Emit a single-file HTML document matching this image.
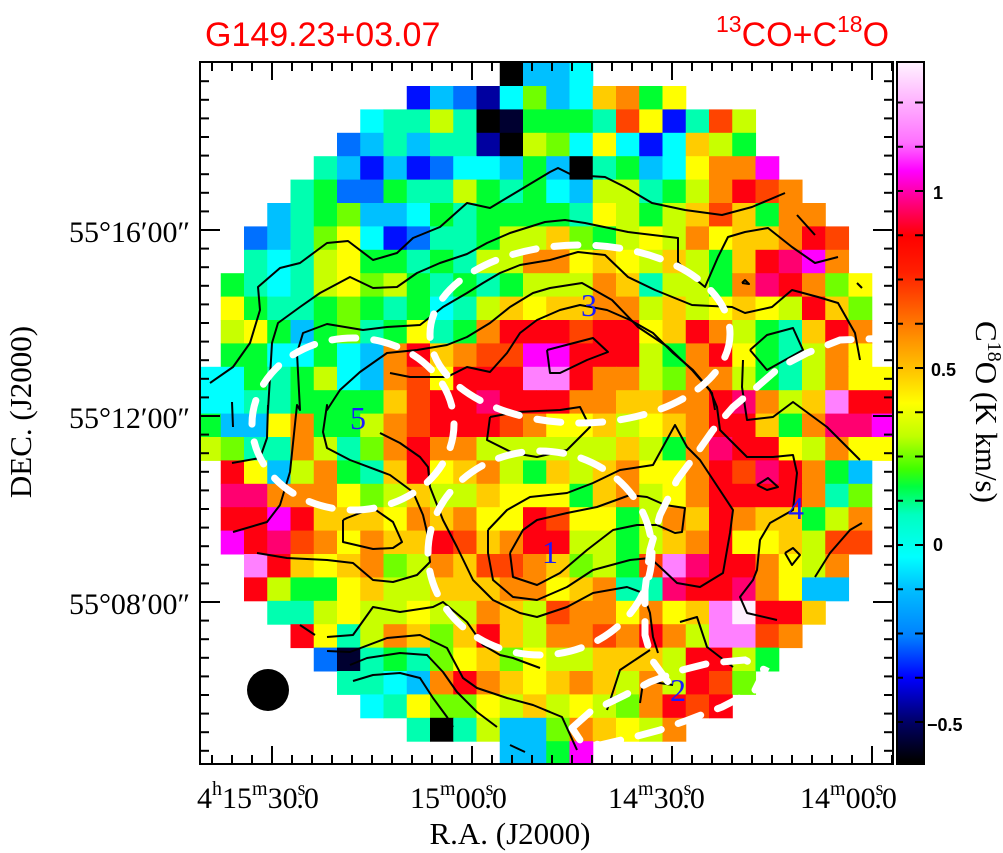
<!DOCTYPE html>
<html><head><meta charset="utf-8">
<style>
html,body{margin:0;padding:0;background:#fff;width:1003px;height:853px;overflow:hidden}
svg{display:block}
.ser{font-family:"Liberation Serif",serif}
</style></head>
<body>
<svg id="s" width="1003" height="853" viewBox="0 0 1003 853" xmlns="http://www.w3.org/2000/svg">
<defs>
<clipPath id="pc"><rect x="200" y="62" width="693" height="702"/></clipPath>
<linearGradient id="cb" x1="0" y1="0" x2="0" y2="1">
<stop offset="0.003" stop-color="#fff0ff"/>
<stop offset="0.115" stop-color="#ff70ff"/>
<stop offset="0.155" stop-color="#ff00ff"/>
<stop offset="0.20" stop-color="#ff0080"/>
<stop offset="0.248" stop-color="#ff0000"/>
<stop offset="0.30" stop-color="#ff2000"/>
<stop offset="0.353" stop-color="#ff6000"/>
<stop offset="0.393" stop-color="#ff9000"/>
<stop offset="0.446" stop-color="#ffcc00"/>
<stop offset="0.486" stop-color="#ffff00"/>
<stop offset="0.533" stop-color="#c0ff00"/>
<stop offset="0.58" stop-color="#40ff00"/>
<stop offset="0.605" stop-color="#00ff40"/>
<stop offset="0.645" stop-color="#00ffc0"/>
<stop offset="0.705" stop-color="#00ffff"/>
<stop offset="0.75" stop-color="#00c0ff"/>
<stop offset="0.818" stop-color="#0080ff"/>
<stop offset="0.877" stop-color="#0000ff"/>
<stop offset="0.943" stop-color="#000060"/>
<stop offset="0.996" stop-color="#000000"/>
</linearGradient>
</defs>
<g id="cells" clip-path="url(#pc)"></g>
<g id="cont" fill="none" stroke="#000" stroke-width="2" stroke-linejoin="round" clip-path="url(#pc)"></g>
<g fill="none" stroke="#fff" stroke-width="7" stroke-linecap="round" stroke-dasharray="24 18" clip-path="url(#pc)">
<ellipse cx="580" cy="334" rx="150" ry="89"/>
<ellipse cx="353" cy="424" rx="101" ry="86"/>
<ellipse cx="540" cy="553" rx="112" ry="102"/>
<polyline points="893,338 840,340 807,353 780,367 757,387 733,407 713,430 697,453 677,480 660,515 650,550 645,590 645,635 652,660 668,682"/>
<polyline points="572,728 590,712 625,695 650,682 682,670 710,663 745,660 765,670 755,690 722,707 688,720 660,730 630,738 600,745 580,740 572,728"/>
</g>
<circle cx="268" cy="690" r="21" fill="#000"/>
<g fill="#1a1aff" class="ser" font-size="32">
<text x="581" y="316">3</text>
<text x="350" y="429">5</text>
<text x="542" y="563">1</text>
<text x="788" y="519">4</text>
<text x="670" y="701">2</text>
</g>
<rect x="200" y="62" width="693" height="702" fill="none" stroke="#000" stroke-width="2"/>
<g id="ticks" stroke="#000" stroke-width="2"></g>
<rect x="897" y="62" width="27" height="702" fill="url(#cb)" stroke="#000" stroke-width="2"/>
<g id="cbt" stroke="#000" stroke-width="2"></g>
<g fill="#ff0000" font-family="Liberation Sans, sans-serif" font-size="34">
<text x="205" y="46">G149.23+03.07</text>
<text x="716" y="46"><tspan font-size="23" dy="-14">13</tspan><tspan dy="14">CO+C</tspan><tspan font-size="23" dy="-14">18</tspan><tspan dy="14">O</tspan></text>
</g>
<g class="ser" font-size="30" fill="#000">
<text x="190" y="242" text-anchor="end">55°16′00″</text>
<text x="190" y="428" text-anchor="end">55°12′00″</text>
<text x="190" y="614" text-anchor="end">55°08′00″</text>
<text x="197" y="808">4<tspan font-size="20" dy="-13">h</tspan><tspan dy="13">15</tspan><tspan font-size="20" dy="-13">m</tspan><tspan dy="13">30</tspan><tspan font-size="20" dy="-13">s</tspan><tspan dy="13" dx="-9">.0</tspan></text>
<text x="410" y="808">15<tspan font-size="20" dy="-13">m</tspan><tspan dy="13">00</tspan><tspan font-size="20" dy="-13">s</tspan><tspan dy="13" dx="-9">.0</tspan></text>
<text x="608" y="808">14<tspan font-size="20" dy="-13">m</tspan><tspan dy="13">30</tspan><tspan font-size="20" dy="-13">s</tspan><tspan dy="13" dx="-9">.0</tspan></text>
<text x="800" y="808">14<tspan font-size="20" dy="-13">m</tspan><tspan dy="13">00</tspan><tspan font-size="20" dy="-13">s</tspan><tspan dy="13" dx="-9">.0</tspan></text>
<text x="510" y="844" text-anchor="middle" font-size="31">R.A. (J2000)</text>
<text transform="translate(31,412) rotate(-90)" text-anchor="middle" font-size="31">DEC. (J2000)</text>
<text transform="translate(976,412) rotate(90)" text-anchor="middle" font-size="31">C<tspan font-size="20" dy="-12">18</tspan><tspan dy="12">O (K km/s)</tspan></text>
</g>
<g font-family="Liberation Sans, sans-serif" font-weight="bold" font-size="18" fill="#000">
<text x="933" y="199">1</text>
<text x="931" y="376">0.5</text>
<text x="933" y="551">0</text>
<text x="927" y="731">−0.5</text>
</g>
</svg>
<script>
var rows=[
"_____________KccC_____________",
"_________BcbnClcCoOgY_________",
"_______CttytKNgggtrYBtry______",
"______bctcttnKylCYCBCoyg______",
"_____tcBcBbCCcgcKtgcCYOOp_____",
"____tgbbgttygtgCcyytgyORrO____",
"___ctglccCgtggggtYygyorogOO___",
"__bctlYCBbttgyyolgyYyOYooORr__",
"__tCtyYggtgtyyOOYoYyoygoRmpO__",
"_gtCtyYlygtgtgyyyOotyygOmROlY_",
"_YgttglgtgCtyoYooOOyoyYoYyRol_",
"_yYgcgltgYtgORRRrRRYoROygtoRO_",
"_ggCCgCcORoOrrppRRRygORYgtyOY_",
"CCgtgyCcOrYRRRPPROOylOOygtyOYY",
"CCttggggorRRmRRROOooOORmOyoPRR",
"gccYOggyOrRRRrOYYoyYoORRogOmmp",
"ylttOytlOROOyyyyyyoygOmRRYyOYY",
"_RYcyOgtoRYoOygoyoOYYORrmROgc_",
"_mmOOOYlyoyyoYYYgoOyYORRRROtl_",
"_RRpRoooYOoOYYRrYYgyOoROoogyO_",
"_pRmrOYOooRroORRyygyoORYYoyrr_",
"__PRoYoOlyOorrOolygrPmRROYyO__",
"__RyggYoyyoooOOYoOttmRRmOYcc__",
"___ttyYyyYyyOoyrOOYOYoPWRRo___",
"____RYtyOoloRoyOOrOROyPPrO____",
"_____bNtgtlYolYyyoooyRRyg_____",
"______ttCcOROoYoOoyOyRrl______",
"_______CtYllYyoyYylORrR_______",
"_________tKtycclOoYyO_________",
"_____________ccgp_____________"];
var col={K:"#000000",N:"#000030",n:"#0000a0",B:"#0010ff",b:"#0070ff",c:"#00c0ff",C:"#00ffff",t:"#00ffb0",g:"#00ff30",l:"#70ff00",y:"#c8ff00",Y:"#ffff00",o:"#ffcc00",O:"#ff8800",r:"#ff4400",R:"#ff0010",m:"#ff0070",p:"#ff00ff",P:"#ff80ff",W:"#fff0ff"};
var NS="http://www.w3.org/2000/svg";
function el(n,a,p){var e=document.createElementNS(NS,n);for(var k in a)e.setAttribute(k,a[k]);p.appendChild(e);return e;}
var g=document.getElementById("cells");
for(var r=0;r<30;r++){var s=rows[r];for(var c=0;c<30;c++){var ch=s.charAt(c);if(ch==="_"||!col[ch])continue;
el("rect",{x:(197.5+23.25*c).toFixed(2),y:(62.6+23.4*r).toFixed(2),width:"23.8",height:"23.9",fill:col[ch]},g);}}
var cont=[
"510,553 523,530 537,520 567,513 597,507 630,495 647,497 665,505 685,508 682,532 675,533 657,525 637,525 613,530 587,550 560,573 537,585 513,577 510,553",
"488,530 507,510 530,497 567,493 593,483 620,470 653,465 675,425 687,447 700,460 733,510 730,533 727,550 723,573 700,587 677,583 660,567 650,558 630,560 593,570 567,587 537,600 513,597 493,580 488,553 488,530",
"380,433 400,443 420,457 428,467 430,487 443,520 457,547 473,580 493,600 520,613 537,617 567,607 593,593 627,587 643,593 650,613 653,637 658,653",
"547,350 550,373 560,373 587,360 608,352 593,338 547,350",
"390,373 410,377 447,377 467,367 490,372 507,353 520,333 537,320 560,310 580,305 607,310 630,320 653,333 673,353 693,370 710,390 717,407 720,430 733,443 747,457 773,457 793,455 797,473 793,510 770,523 760,540 757,570 753,580 740,597 747,613 777,620",
"490,417 487,440 513,453 537,457 567,450 590,427 580,407 560,410 517,412 490,417",
"210,383 233,367 250,343 260,310 258,287 280,268 300,263 327,243 348,241 373,260 397,253 413,238 440,227 467,203 490,208 520,190 550,172 558,168 572,175 605,177 625,187 652,203 685,210 722,215 752,207 785,193",
"268,410 270,377 272,343 278,323 300,307 320,293 350,277 373,288 397,287 417,273 440,263 467,254 487,243 510,233 545,222 565,220 585,223 628,232 678,238 678,262 688,273 705,287 718,257 728,237 745,232 768,228 792,247 815,263 838,257",
"233,532 267,522 280,505 290,472 297,405 300,410 297,353 303,333 327,324 363,330 387,327 420,325 443,307 467,293 483,283 500,273 520,265 550,260 578,252 605,255 628,277 655,290 692,305 732,307 745,313 772,307 792,290 818,297 838,303 855,333 860,360",
"430,545 423,515 413,492 390,475 350,460 327,448 323,432 327,405 327,410 340,390 360,372 387,353 417,350 447,345 467,337 490,323 510,307 533,293 550,288 582,283 612,300 638,327 668,347 692,370 712,393 715,410",
"327,637 353,635 373,607 400,612 433,607 443,602 467,622 483,645 500,655 513,658 540,668",
"327,651 350,652 387,638 420,635 447,648 463,678 477,688 507,698 533,705 550,712",
"350,665 367,658 400,653 427,655 443,672 457,692 477,712 497,727",
"353,681 373,675 400,673 420,678 433,698 447,717 453,727",
"300,625 315,635",
"232,463 260,458 267,438 268,405",
"257,553 287,558 327,560 353,563 373,580 393,582 417,575 430,562 427,532",
"343,520 347,518 373,508 393,522 402,542 393,548 373,549 343,542 343,520",
"680,622 697,617 707,647 733,667",
"607,710 620,670 650,650",
"640,703 643,683 653,682 673,685",
"860,460 827,427 793,402 773,417 747,420 742,387 743,360",
"750,350 767,335 793,328 803,350 767,370 750,350",
"757,485 768,478 778,487 767,490 757,485",
"785,553 793,548 800,555 792,565 785,553",
"815,577 830,553 850,530 862,523",
"742,283 745,280 749,284 742,283",
"857,283 862,288",
"797,215 815,235",
"232,402 233,427",
"545,710 562,717 577,750",
"510,745 525,752"];
var cg=document.getElementById("cont");
cont.forEach(function(p){el("polyline",{points:p},cg);});
var t=document.getElementById("ticks");
function ln(x1,y1,x2,y2,p){el("line",{x1:x1,y1:y1,x2:x2,y2:y2},p);}
for(var x=212;x<893;x+=20){var maj=((x-272)%200===0);var L=maj?18:9;ln(x,62,x,62+L,t);ln(x,764,x,764-L,t);}
for(var i=-12;i<=30;i++){var y=230+18.6*i;if(y<64||y>762)continue;var maj=(i%10===0);var L=maj?20:9;ln(200,y,200+L,y,t);ln(893,y,893-L,y,t);}
var cb=document.getElementById("cbt");
for(var v=-5;v<=11;v++){var y=545-44.25*v;if(y<64||y>762)continue;ln(924,y,915,y,cb);ln(897,y,903,y,cb);}
</script>
</body></html>
